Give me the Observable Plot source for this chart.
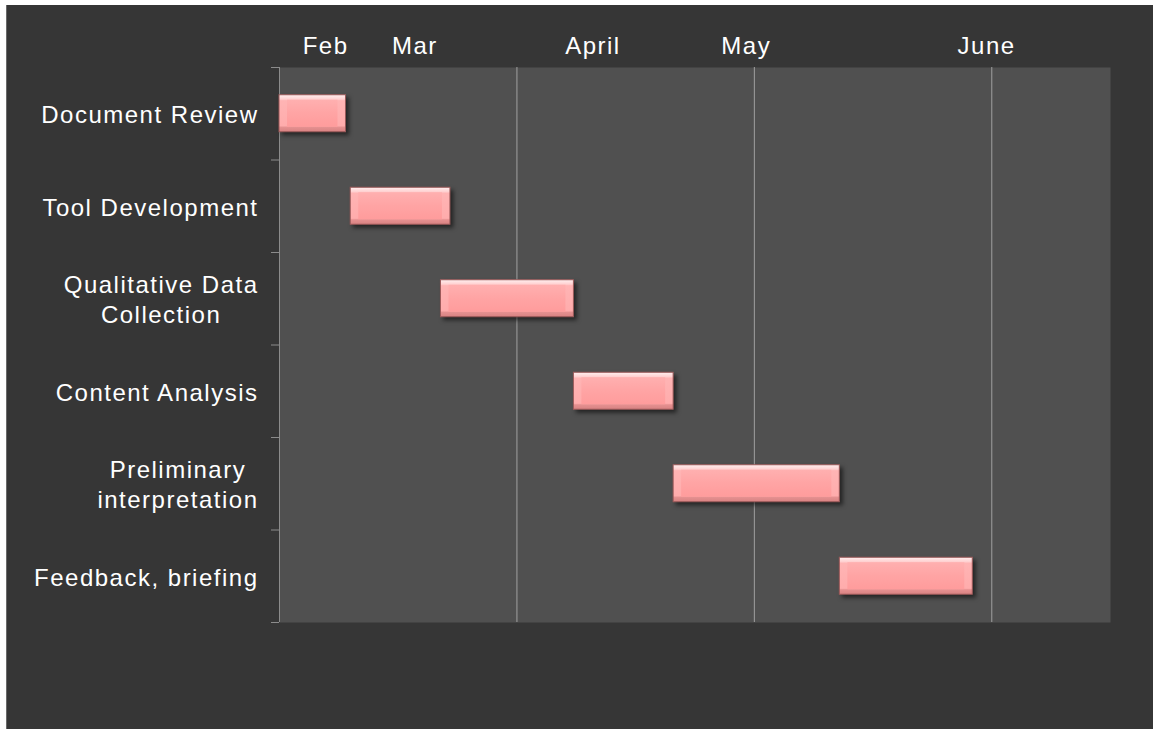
<!DOCTYPE html>
<html><head><meta charset="utf-8">
<script src="https://cdn.jsdelivr.net/npm/d3@7"></script>
<script src="https://cdn.jsdelivr.net/npm/@observablehq/plot@0.6"></script>
<style>
html,body{margin:0;padding:0;background:#fff;}
#chart{position:absolute;left:6px;top:5px;width:1147px;height:724px;background:#363636;}
#chart::before{content:"";position:absolute;left:0;top:0;width:1px;height:724px;background:#6a6a6a;}
svg{display:block;}
</style></head><body><div id="chart"></div>
<script>
// Tasks (top to bottom) and their spans in days from the start of February
const tasks = ["Document Review","Tool Development","Qualitative Data\nCollection","Content Analysis","Preliminary\ninterpretation","Feedback, briefing"];
const startDay = [0, 15, 34, 62, 83, 118];
const endDay = [14, 36, 62, 83, 118, 146];
// Month labels written along the top, at their day positions
const monthLabels = ["Feb", "Mar", "April", "May", "June"];
const monthDay = [9.7, 28.5, 66, 98.3, 148.9];
// Vertical gridlines (days)
const gridDays = [50, 100, 150];

const data = tasks.map((t, i) => ({task: t, i, start: startDay[i], end: endDay[i]}));
const months = monthLabels.map((m, i) => ({m, d: monthDay[i]}));

const font = "'Liberation Sans', Arial, sans-serif";
const plot = Plot.plot({
  width: 1147, height: 724,
  marginLeft: 273, marginTop: 62, marginRight: 43, marginBottom: 107,
  style: {background: "#363636", color: "#fff", fontFamily: font, fontSize: "24px", overflow: "visible", letterSpacing: "1.5px"},
  x: {domain: [0, 175], axis: null},
  y: {domain: [0, tasks.length], reverse: true, axis: null},
  marks: [
    Plot.frame({fill: "#505050", stroke: "none"}),
    Plot.ruleX(gridDays, {stroke: "#a0a0a0", strokeWidth: 1, strokeOpacity: 1}),
    Plot.ruleX([0], {stroke: "#8c8c8c", strokeWidth: 1, strokeOpacity: 1}),
    Plot.axisY({ticks: d3.range(tasks.length + 1), tickSize: 8, tickFormat: () => "", stroke: "#8c8c8c", strokeOpacity: 1, label: null}),
    Plot.axisY({ticks: tasks.map((t, i) => i + 0.5), tickSize: 0, tickPadding: 21, tickFormat: v => tasks[Math.floor(v)], fontSize: 24, lineHeight: 1.25, fill: "#fff", label: null}),
    Plot.rect(data, {x1: "start", x2: "end", y1: d => d.i + 0.3, y2: d => d.i + 0.7, fill: "url(#barGrad)", stroke: "#9c5a5a", strokeWidth: 1}),
    Plot.rect(data, {x1: "start", x2: "end", y1: d => d.i + 0.3, y2: d => d.i + 0.7, insetTop: 5, insetBottom: 5, insetLeft: 8, insetRight: 8, fill: "url(#bodyGrad)"}),
    Plot.text(months, {x: "d", text: "m", frameAnchor: "top", dy: -14, lineAnchor: "bottom", fill: "#fff", fontSize: 24})
  ]
});
document.getElementById("chart").appendChild(plot);

const svg = d3.select(plot);
const defs = svg.insert("defs", ":first-child");
const g1 = defs.append("linearGradient").attr("id", "barGrad").attr("x1", 0).attr("y1", 0).attr("x2", 0).attr("y2", 1);
[[0, "#fff0f0"], [0.12, "#ffd0d0"], [0.16, "#ffb4b4"], [0.84, "#ffacac"], [0.88, "#e59090"], [1, "#d88282"]]
  .forEach(([o, c]) => g1.append("stop").attr("offset", o).attr("stop-color", c));
const g2 = defs.append("linearGradient").attr("id", "bodyGrad").attr("x1", 0).attr("y1", 0).attr("x2", 0).attr("y2", 1);
[[0, "#ffb0b0"], [0.5, "#ffa4a4"], [1, "#ff9c9c"]]
  .forEach(([o, c]) => g2.append("stop").attr("offset", o).attr("stop-color", c));
svg.selectAll('g[aria-label="rect"]').filter((d, i) => i === 0)
  .style("filter", "drop-shadow(3px 3px 2px rgba(0,0,0,0.55))");

// center multi-line task labels within their block
svg.selectAll("text").each(function () {
  const tspans = d3.select(this).selectAll("tspan");
  if (tspans.size() > 1) {
    let w = 0;
    tspans.each(function () { w = Math.max(w, this.getComputedTextLength()); });
    d3.select(this).attr("text-anchor", "middle");
    tspans.attr("x", -w / 2);
  }
});
</script></body></html>
